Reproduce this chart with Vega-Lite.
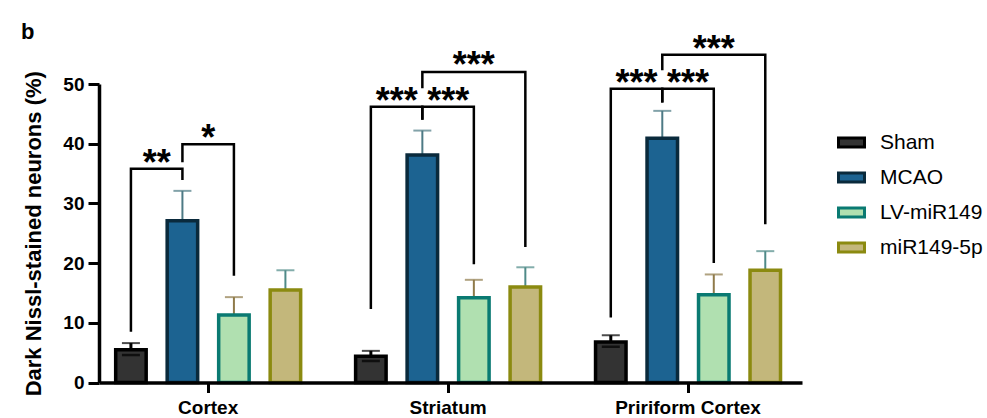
{
  "$schema": "https://vega.github.io/schema/vega-lite/v6.json",
  "width": 703,
  "height": 298.5,
  "autosize": {"type": "none"},
  "padding": {"left": 99, "top": 84, "right": 185, "bottom": 35.5},
  "background": "white",
  "config": {"font": "Liberation Sans", "view": {"stroke": null}},
  "title": {"text": "b", "anchor": "start", "frame": "group", "fontSize": 22, "fontWeight": "bold", "color": "black", "dx": -78, "offset": 40, "dy": 52},
  "datasets": {
    "bars": [
      {"region": "Cortex", "group": "Sham", "mean": 5.5, "lower": 4.6, "upper": 6.6},
      {"region": "Cortex", "group": "MCAO", "mean": 27.1, "lower": 22.1, "upper": 32.1},
      {"region": "Cortex", "group": "LV-miR149", "mean": 11.3, "lower": 8.3, "upper": 14.3},
      {"region": "Cortex", "group": "miR149-5p", "mean": 15.5, "lower": 12.2, "upper": 18.8},
      {"region": "Striatum", "group": "Sham", "mean": 4.4, "lower": 3.6, "upper": 5.3},
      {"region": "Striatum", "group": "MCAO", "mean": 38.1, "lower": 34.0, "upper": 42.2},
      {"region": "Striatum", "group": "LV-miR149", "mean": 14.2, "lower": 11.2, "upper": 17.2},
      {"region": "Striatum", "group": "miR149-5p", "mean": 16.0, "lower": 12.7, "upper": 19.3},
      {"region": "Pririform Cortex", "group": "Sham", "mean": 6.8, "lower": 6.0, "upper": 7.9},
      {"region": "Pririform Cortex", "group": "MCAO", "mean": 40.9, "lower": 36.3, "upper": 45.5},
      {"region": "Pririform Cortex", "group": "LV-miR149", "mean": 14.7, "lower": 11.3, "upper": 18.1},
      {"region": "Pririform Cortex", "group": "miR149-5p", "mean": 18.8, "lower": 15.6, "upper": 22.0}
    ],
    "brackets": [
      {"region": "Cortex", "bid": "c1", "k": 1, "group": "Sham", "y": 8.5},
      {"region": "Cortex", "bid": "c1", "k": 2, "group": "Sham", "y": 35.8},
      {"region": "Cortex", "bid": "c1", "k": 3, "group": "MCAO", "y": 35.8},
      {"region": "Cortex", "bid": "c1", "k": 4, "group": "MCAO", "y": 33.9},
      {"region": "Cortex", "bid": "c2", "k": 1, "group": "MCAO", "y": 36.9},
      {"region": "Cortex", "bid": "c2", "k": 2, "group": "MCAO", "y": 39.9},
      {"region": "Cortex", "bid": "c2", "k": 3, "group": "LV-miR149", "y": 39.9},
      {"region": "Cortex", "bid": "c2", "k": 4, "group": "LV-miR149", "y": 17.9},
      {"region": "Striatum", "bid": "s1", "k": 1, "group": "Sham", "y": 12.3},
      {"region": "Striatum", "bid": "s1", "k": 2, "group": "Sham", "y": 46.2},
      {"region": "Striatum", "bid": "s1", "k": 3, "group": "MCAO", "y": 46.2},
      {"region": "Striatum", "bid": "s1", "k": 4, "group": "MCAO", "y": 44.0},
      {"region": "Striatum", "bid": "s2", "k": 1, "group": "MCAO", "y": 44.0},
      {"region": "Striatum", "bid": "s2", "k": 2, "group": "MCAO", "y": 46.2},
      {"region": "Striatum", "bid": "s2", "k": 3, "group": "LV-miR149", "y": 46.2},
      {"region": "Striatum", "bid": "s2", "k": 4, "group": "LV-miR149", "y": 19.8},
      {"region": "Striatum", "bid": "s3", "k": 1, "group": "MCAO", "y": 49.3},
      {"region": "Striatum", "bid": "s3", "k": 2, "group": "MCAO", "y": 52.0},
      {"region": "Striatum", "bid": "s3", "k": 3, "group": "miR149-5p", "y": 52.0},
      {"region": "Striatum", "bid": "s3", "k": 4, "group": "miR149-5p", "y": 22.7},
      {"region": "Pririform Cortex", "bid": "p1", "k": 1, "group": "Sham", "y": 10.9},
      {"region": "Pririform Cortex", "bid": "p1", "k": 2, "group": "Sham", "y": 49.2},
      {"region": "Pririform Cortex", "bid": "p1", "k": 3, "group": "MCAO", "y": 49.2},
      {"region": "Pririform Cortex", "bid": "p1", "k": 4, "group": "MCAO", "y": 46.9},
      {"region": "Pririform Cortex", "bid": "p2", "k": 1, "group": "MCAO", "y": 46.9},
      {"region": "Pririform Cortex", "bid": "p2", "k": 2, "group": "MCAO", "y": 49.2},
      {"region": "Pririform Cortex", "bid": "p2", "k": 3, "group": "LV-miR149", "y": 49.2},
      {"region": "Pririform Cortex", "bid": "p2", "k": 4, "group": "LV-miR149", "y": 20.0},
      {"region": "Pririform Cortex", "bid": "p3", "k": 1, "group": "MCAO", "y": 52.3},
      {"region": "Pririform Cortex", "bid": "p3", "k": 2, "group": "MCAO", "y": 54.9},
      {"region": "Pririform Cortex", "bid": "p3", "k": 3, "group": "miR149-5p", "y": 54.9},
      {"region": "Pririform Cortex", "bid": "p3", "k": 4, "group": "miR149-5p", "y": 26.5}
    ],
    "stars": [
      {"region": "Cortex", "group": "Sham", "label": "**", "y": 34.7, "adjacent": true},
      {"region": "Cortex", "group": "MCAO", "label": "*", "y": 39.0, "adjacent": true},
      {"region": "Striatum", "group": "Sham", "label": "***", "y": 45.1, "adjacent": true},
      {"region": "Striatum", "group": "MCAO", "label": "***", "y": 45.1, "adjacent": true},
      {"region": "Striatum", "group": "LV-miR149", "label": "***", "y": 51.2, "adjacent": false},
      {"region": "Pririform Cortex", "group": "Sham", "label": "***", "y": 48.2, "adjacent": true},
      {"region": "Pririform Cortex", "group": "MCAO", "label": "***", "y": 48.2, "adjacent": true},
      {"region": "Pririform Cortex", "group": "LV-miR149", "label": "***", "y": 53.8, "adjacent": false}
    ]
  },
  "encoding": {
    "x": {
      "field": "region", "type": "nominal", "sort": ["Cortex", "Striatum", "Pririform Cortex"],
      "scale": {"paddingInner": 0.09, "paddingOuter": 0.01, "align": 0},
      "axis": {"title": null, "labelAngle": 0, "labelFontSize": 19, "labelFontWeight": "bold", "labelColor": "black", "labelPadding": 6,
               "domainColor": "black", "domainWidth": 3.5, "tickColor": "black", "tickWidth": 3, "tickSize": 10, "zindex": 1}
    },
    "xOffset": {
      "field": "group", "type": "nominal", "sort": ["Sham", "MCAO", "LV-miR149", "miR149-5p"],
      "scale": {"paddingInner": 0.408, "paddingOuter": 0.324}
    }
  },
  "layer": [
    {
      "data": {"name": "bars"},
      "mark": {"type": "rule"},
      "encoding": {
        "y": {"field": "lower", "type": "quantitative", "scale": {"domain": [0, 50], "nice": false}, "title": "Dark Nissl-stained neurons (%)"},
        "y2": {"field": "upper"},
        "color": {"condition": [{"test": "datum.group === 'MCAO'", "value": "#4d7a85"}, {"test": "datum.group === 'LV-miR149'", "value": "#8f7a4a"}, {"test": "datum.group === 'miR149-5p'", "value": "#4f8a88"}], "value": "#000000"},
        "strokeWidth": {"condition": {"test": "datum.group === 'Sham'", "value": 3}, "value": 2}
      }
    },
    {
      "data": {"name": "bars"},
      "mark": {"type": "tick", "size": 18, "thickness": 2},
      "encoding": {
        "y": {"field": "upper", "type": "quantitative", "scale": {"domain": [0, 50], "nice": false}, "title": "Dark Nissl-stained neurons (%)"},
        "color": {"condition": [{"test": "datum.group === 'MCAO'", "value": "#4d7a85"}, {"test": "datum.group === 'LV-miR149'", "value": "#8f7a4a"}, {"test": "datum.group === 'miR149-5p'", "value": "#4f8a88"}], "value": "#000000"}
      }
    },
    {
      "data": {"name": "bars"},
      "mark": {"type": "bar", "strokeWidth": 3.5},
      "encoding": {
        "y": {"field": "mean", "type": "quantitative", "scale": {"domain": [0, 50], "nice": false}, "title": "Dark Nissl-stained neurons (%)",
              "axis": {"values": [0, 10, 20, 30, 40, 50], "grid": false, "labelFontSize": 19, "labelFontWeight": "bold", "labelColor": "black", "labelPadding": 4,
                       "domainColor": "black", "domainWidth": 3.5, "tickColor": "black", "tickWidth": 3, "tickSize": 11,
                       "titleFontSize": 22, "titleFontWeight": "bold", "titleColor": "black", "titlePadding": 17, "zindex": 1}},
        "fill": {"field": "group", "type": "nominal", "sort": ["Sham", "MCAO", "LV-miR149", "miR149-5p"],
                 "scale": {"domain": ["Sham", "MCAO", "LV-miR149", "miR149-5p"], "range": ["#333333", "#1c6391", "#b0e0b0", "#c3b77b"]},
                 "legend": {"title": null, "orient": "none", "legendX": 738, "legendY": 44, "symbolType": "M-1,-0.35H1V0.35H-1Z", "symbolSize": 676,
                            "symbolStrokeWidth": 3, "labelFontSize": 21, "labelColor": "black", "labelOffset": 14, "rowPadding": 9}},
        "stroke": {"field": "group", "type": "nominal", "sort": ["Sham", "MCAO", "LV-miR149", "miR149-5p"],
                   "scale": {"domain": ["Sham", "MCAO", "LV-miR149", "miR149-5p"], "range": ["#000000", "#0a2a3c", "#0a7a72", "#8b8a10"]},
                   "legend": {"title": null, "orient": "none", "legendX": 738, "legendY": 44, "symbolType": "M-1,-0.35H1V0.35H-1Z", "symbolSize": 676,
                              "symbolStrokeWidth": 3, "labelFontSize": 21, "labelColor": "black", "labelOffset": 14, "rowPadding": 9}}
      }
    },
    {
      "data": {"name": "bars"},
      "transform": [{"filter": "datum.group === 'Sham'"}],
      "mark": {"type": "tick", "size": 18, "thickness": 2.5, "color": "black"},
      "encoding": {
        "y": {"field": "lower", "type": "quantitative", "scale": {"domain": [0, 50], "nice": false}, "title": "Dark Nissl-stained neurons (%)"}
      }
    },
    {
      "data": {"name": "brackets"},
      "mark": {"type": "line", "color": "black", "strokeWidth": 2.5},
      "encoding": {
        "y": {"field": "y", "type": "quantitative", "scale": {"domain": [0, 50], "nice": false}, "title": "Dark Nissl-stained neurons (%)"},
        "detail": {"field": "bid"},
        "order": {"field": "k", "type": "quantitative"}
      }
    },
    {
      "data": {"name": "stars"},
      "transform": [{"filter": "datum.adjacent"}],
      "mark": {"type": "text", "fontSize": 36, "fontWeight": "bold", "color": "black", "baseline": "alphabetic", "align": "center", "dx": 25.8},
      "encoding": {
        "y": {"field": "y", "type": "quantitative", "scale": {"domain": [0, 50], "nice": false}, "title": "Dark Nissl-stained neurons (%)"},
        "text": {"field": "label"}
      }
    },
    {
      "data": {"name": "stars"},
      "transform": [{"filter": "!datum.adjacent"}],
      "mark": {"type": "text", "fontSize": 36, "fontWeight": "bold", "color": "black", "baseline": "alphabetic", "align": "center"},
      "encoding": {
        "y": {"field": "y", "type": "quantitative", "scale": {"domain": [0, 50], "nice": false}, "title": "Dark Nissl-stained neurons (%)"},
        "text": {"field": "label"}
      }
    }
  ]
}
